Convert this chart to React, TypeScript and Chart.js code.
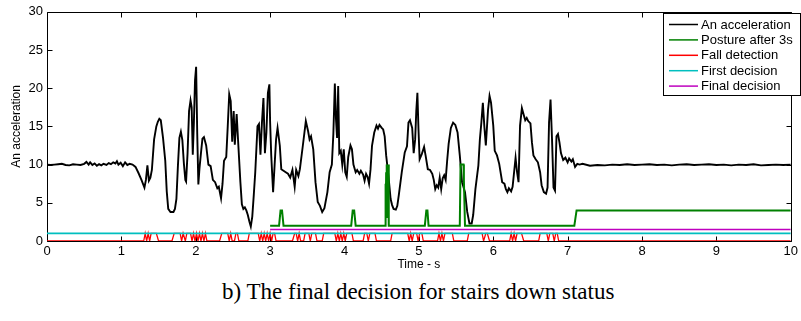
import React, { useEffect, useRef } from "react";
import { Chart, registerables } from "chart.js";

Chart.register(...registerables);

// Magnitude of acceleration over time: [time (s), value]
const accSamples: [number, number][] = [
  [0.0, 10.0], [0.05, 9.95], [0.1, 10.0], [0.15, 10.05], [0.2, 10.1], [0.25, 9.95],
  [0.3, 9.9], [0.35, 10.05], [0.4, 10.0], [0.45, 9.95], [0.5, 10.1], [0.53, 10.35],
  [0.56, 10.0], [0.58, 10.3], [0.61, 9.95], [0.64, 10.15], [0.67, 9.85], [0.7, 10.05],
  [0.73, 9.9], [0.76, 10.1], [0.8, 9.95], [0.83, 10.2], [0.86, 10.05], [0.89, 10.3],
  [0.92, 10.15], [0.94, 10.45], [0.96, 10.0], [0.99, 10.25], [1.02, 9.8], [1.05, 10.3],
  [1.08, 9.95], [1.11, 10.1], [1.15, 10.0], [1.19, 9.7], [1.23, 8.9], [1.27, 8.0],
  [1.31, 7.0], [1.33, 8.0], [1.35, 9.9], [1.37, 7.9], [1.39, 8.3], [1.41, 9.3],
  [1.44, 13.3], [1.47, 15.0], [1.49, 15.6], [1.51, 16.0], [1.53, 15.8], [1.56, 13.5],
  [1.59, 10.5], [1.61, 6.5], [1.63, 4.2], [1.66, 3.8], [1.7, 3.8], [1.72, 4.2],
  [1.74, 5.5], [1.76, 9.8], [1.78, 13.5], [1.8, 14.3], [1.82, 13.2], [1.84, 10.2],
  [1.86, 8.0], [1.87, 7.8], [1.89, 11.5], [1.91, 17.0], [1.93, 18.4], [1.945, 17.5],
  [1.96, 11.3], [1.975, 15.5], [1.99, 21.0], [2.005, 22.8], [2.02, 14.0], [2.035, 7.4],
  [2.05, 9.5], [2.07, 11.5], [2.09, 13.4], [2.11, 13.6], [2.14, 12.5], [2.17, 10.0],
  [2.2, 9.8], [2.23, 8.0], [2.26, 7.7], [2.29, 6.9], [2.31, 7.1], [2.34, 5.6],
  [2.36, 7.5], [2.38, 10.5], [2.41, 11.0], [2.43, 15.0], [2.45, 19.2], [2.47, 18.3],
  [2.49, 13.0], [2.51, 17.0], [2.525, 12.6], [2.55, 16.6], [2.57, 13.0], [2.6, 7.7],
  [2.62, 4.8], [2.64, 4.2], [2.66, 4.4], [2.68, 4.0], [2.7, 3.4], [2.72, 2.6],
  [2.74, 1.9], [2.76, 3.2], [2.78, 6.0], [2.8, 9.0], [2.83, 15.0], [2.85, 15.3],
  [2.87, 11.3], [2.89, 15.5], [2.91, 18.7], [2.93, 11.5], [2.95, 14.2], [2.97, 19.4],
  [2.99, 20.5], [3.0, 15.5], [3.015, 11.2], [3.04, 6.4], [3.06, 9.9], [3.08, 13.3],
  [3.1, 14.8], [3.13, 12.5], [3.15, 9.4], [3.18, 9.2], [3.21, 9.0], [3.24, 8.8],
  [3.27, 8.3], [3.3, 9.3], [3.33, 7.1], [3.35, 9.3], [3.38, 8.5], [3.4, 9.4],
  [3.44, 12.5], [3.48, 15.7], [3.51, 14.4], [3.53, 13.3], [3.55, 13.7], [3.58, 12.0],
  [3.61, 7.7], [3.64, 5.1], [3.67, 4.6], [3.7, 3.8], [3.73, 4.3], [3.77, 6.4],
  [3.8, 9.0], [3.83, 10.0], [3.85, 14.0], [3.87, 20.6], [3.885, 16.0], [3.9, 13.5],
  [3.915, 20.3], [3.93, 11.5], [3.95, 11.8], [3.97, 10.0], [3.99, 12.0], [4.01, 9.0],
  [4.03, 8.4], [4.05, 11.0], [4.08, 12.5], [4.1, 12.0], [4.12, 10.0], [4.15, 9.0],
  [4.17, 9.3], [4.2, 8.8], [4.22, 9.2], [4.25, 8.7], [4.27, 7.9], [4.29, 8.8],
  [4.31, 8.4], [4.33, 7.5], [4.35, 9.4], [4.37, 12.5], [4.4, 14.2], [4.43, 15.1],
  [4.45, 14.7], [4.47, 15.2], [4.5, 14.8], [4.52, 14.6], [4.54, 13.7], [4.56, 11.2],
  [4.59, 8.6], [4.62, 5.5], [4.64, 4.7], [4.66, 4.2], [4.69, 4.1], [4.71, 4.6],
  [4.73, 6.0], [4.77, 9.0], [4.81, 11.6], [4.84, 12.4], [4.86, 15.5], [4.88, 15.8],
  [4.91, 14.8], [4.93, 11.5], [4.95, 13.3], [4.965, 17.0], [4.98, 19.4], [4.995, 14.5],
  [5.01, 10.7], [5.04, 11.4], [5.07, 12.3], [5.09, 11.2], [5.12, 9.4], [5.15, 9.3],
  [5.18, 8.8], [5.2, 8.0], [5.22, 6.8], [5.24, 7.3], [5.26, 7.0], [5.28, 8.3],
  [5.3, 6.8], [5.32, 8.2], [5.34, 8.6], [5.36, 8.0], [5.38, 10.5], [5.4, 12.7],
  [5.43, 14.8], [5.46, 15.5], [5.49, 15.2], [5.52, 14.2], [5.55, 11.2], [5.58, 7.7],
  [5.62, 6.4], [5.65, 3.8], [5.68, 2.3], [5.71, 2.3], [5.73, 3.4], [5.76, 6.8],
  [5.8, 9.9], [5.82, 13.3], [5.84, 15.5], [5.86, 18.1], [5.88, 15.0], [5.9, 12.5],
  [5.93, 17.2], [5.95, 19.0], [5.97, 18.1], [6.0, 15.1], [6.02, 11.8], [6.05, 11.2],
  [6.08, 10.1], [6.12, 7.7], [6.15, 7.5], [6.17, 6.8], [6.19, 6.4], [6.21, 6.9],
  [6.24, 6.5], [6.26, 7.1], [6.28, 9.0], [6.3, 10.9], [6.32, 9.0], [6.34, 7.7],
  [6.36, 15.1], [6.385, 17.4], [6.41, 16.5], [6.43, 15.8], [6.45, 16.1], [6.47, 15.7],
  [6.5, 15.4], [6.52, 12.9], [6.54, 11.2], [6.57, 10.7], [6.6, 10.3], [6.63, 9.0],
  [6.65, 7.3], [6.68, 6.4], [6.71, 6.2], [6.73, 7.0], [6.75, 15.5], [6.77, 18.5],
  [6.79, 13.3], [6.81, 7.0], [6.83, 6.6], [6.85, 13.7], [6.87, 14.0], [6.89, 12.9],
  [6.91, 11.5], [6.94, 10.6], [6.97, 10.9], [7.0, 10.3], [7.02, 10.8], [7.05, 10.4],
  [7.07, 10.7], [7.1, 9.7], [7.13, 10.1], [7.16, 10.0], [7.2, 10.1], [7.3, 9.85],
  [7.4, 9.95], [7.5, 9.9], [7.6, 10.0], [7.7, 9.95], [7.8, 10.05], [7.9, 9.95],
  [8.0, 10.0], [8.1, 10.05], [8.2, 9.95], [8.3, 10.0], [8.4, 9.9], [8.5, 10.0],
  [8.6, 10.05], [8.7, 9.95], [8.8, 10.0], [8.9, 10.05], [9.0, 9.95], [9.1, 10.0],
  [9.2, 9.9], [9.3, 10.0], [9.4, 9.95], [9.5, 10.05], [9.6, 9.9], [9.7, 9.95],
  [9.8, 10.0], [9.9, 9.95], [10.0, 10.0],
];

// Posture class reported 3 s after the fall candidate
const postureSamples: [number, number][] = [
  [3.0, 2], [3.12, 2], [3.14, 4], [3.16, 4], [3.18, 2],
  [4.09, 2], [4.11, 4], [4.13, 4], [4.15, 2],
  [4.545, 2], [4.55, 7.5], [4.555, 2.5], [4.56, 9], [4.565, 3], [4.57, 10],
  [4.58, 3], [4.585, 10], [4.595, 2],
  [5.08, 2], [5.1, 4], [5.115, 4], [5.13, 2],
  [5.55, 2], [5.56, 10], [5.6, 10], [5.605, 8], [5.62, 2],
  [7.09, 2], [7.12, 4], [10.0, 4],
];

// Binary fall-detection flag
const fallSamples: [number, number][] = [
  [0, 0], [1.3, 0], [1.32, 1], [1.34, 0], [1.36, 1], [1.38, 0], [1.4, 1],
  [1.47, 1], [1.5, 0], [1.68, 0], [1.71, 1],
  [1.79, 1], [1.81, 0], [1.83, 1], [1.84, 1], [1.86, 0], [1.88, 1],
  [1.93, 1], [1.95, 0], [1.97, 1], [1.99, 0], [2.01, 1], [2.03, 0], [2.05, 1],
  [2.07, 0], [2.09, 1], [2.11, 0], [2.13, 1], [2.15, 0], [2.32, 0], [2.35, 1],
  [2.43, 1], [2.45, 0], [2.47, 1], [2.49, 0], [2.52, 0], [2.54, 1], [2.56, 1],
  [2.58, 0], [2.7, 0], [2.72, 1],
  [2.84, 1], [2.86, 0], [2.88, 1], [2.9, 0], [2.92, 1], [2.94, 0], [2.96, 1],
  [2.98, 0], [3.0, 1], [3.02, 0], [3.04, 1], [3.06, 1], [3.08, 0], [3.3, 0], [3.33, 1],
  [3.35, 1], [3.37, 0], [3.39, 1], [3.41, 0], [3.45, 0], [3.47, 1], [3.52, 1],
  [3.54, 0], [3.56, 1], [3.61, 1], [3.63, 0], [3.7, 0], [3.72, 1],
  [3.87, 1], [3.89, 0], [3.91, 1], [3.93, 0], [3.95, 1], [3.97, 0], [3.99, 1],
  [4.01, 0], [4.03, 1], [4.1, 1], [4.12, 0], [4.25, 0], [4.27, 1], [4.3, 1],
  [4.32, 0], [4.34, 1], [4.41, 1], [4.43, 0], [4.62, 0], [4.64, 1],
  [4.85, 1], [4.87, 0], [4.89, 1], [4.91, 0], [4.93, 1], [4.97, 1], [4.99, 0],
  [5.01, 1], [5.04, 1], [5.06, 0], [5.25, 0], [5.27, 1], [5.29, 0], [5.31, 1],
  [5.33, 0], [5.35, 1], [5.45, 1], [5.47, 0], [5.65, 0], [5.67, 1],
  [5.85, 1], [5.87, 0], [5.9, 1], [5.92, 1], [5.95, 0], [6.22, 0], [6.24, 1],
  [6.26, 0], [6.28, 1], [6.3, 0], [6.32, 1], [6.38, 1], [6.41, 0], [6.61, 0],
  [6.63, 1], [6.72, 1], [6.74, 0], [6.76, 1], [6.8, 1], [6.82, 0], [6.84, 1],
  [6.86, 1], [6.88, 0], [10.0, 0],
];

// Decision outputs
const firstDecisionSamples: [number, number][] = [[0, 1], [10, 1]];
const finalDecisionSamples: [number, number][] = [[3, 1.5], [10, 1.5]];

const seriesLabels = [
  "An acceleration",
  "Posture after 3s",
  "Fall detection",
  "First decision",
  "Final decision",
];
const seriesColors = ["#000000", "#008000", "#ff0000", "#00bfbf", "#bf00bf"];

const xTickValues = [0, 1, 2, 3, 4, 5, 6, 7, 8, 9, 10];
const yTickValues = [0, 5, 10, 15, 20, 25, 30];

const toPoints = (s: [number, number][]) => s.map(([x, y]) => ({ x, y }));

const FONT = '"Liberation Sans", Arial, Helvetica, sans-serif';

// Axes box with inward tick marks on all four sides
const boxPlugin = {
  id: "axesBox",
  beforeDatasetsDraw(chart: any) {
    const { ctx, chartArea: a, scales } = chart;
    const tl = 5;
    ctx.save();
    ctx.strokeStyle = "#000";
    ctx.lineWidth = 1;
    ctx.beginPath();
    const L = Math.round(a.left) + 0.5;
    const R = Math.round(a.right) + 0.5;
    const T = Math.round(a.top) + 0.5;
    const B = Math.round(a.bottom) + 0.5;
    ctx.rect(L, T, R - L, B - T);
    xTickValues.forEach((v) => {
      const px = Math.round(scales.x.getPixelForValue(v)) + 0.5;
      ctx.moveTo(px, B);
      ctx.lineTo(px, B - tl);
      ctx.moveTo(px, T);
      ctx.lineTo(px, T + tl);
    });
    yTickValues.forEach((v) => {
      const py = Math.round(scales.y.getPixelForValue(v)) + 0.5;
      ctx.moveTo(L, py);
      ctx.lineTo(L + tl, py);
      ctx.moveTo(R, py);
      ctx.lineTo(R - tl, py);
    });
    ctx.stroke();
    ctx.restore();
  },
};

// Boxed legend in the upper-right corner
const legendBoxPlugin = {
  id: "legendBox",
  afterDraw(chart: any) {
    const { ctx } = chart;
    const left = 663.5;
    const top = 13.5;
    const w = 137;
    const h = 82;
    ctx.save();
    ctx.fillStyle = "#fff";
    ctx.fillRect(left, top, w, h);
    ctx.strokeStyle = "#000";
    ctx.lineWidth = 1;
    ctx.strokeRect(left, top, w, h);
    ctx.font = `13px ${FONT}`;
    ctx.textBaseline = "middle";
    ctx.textAlign = "left";
    chart.data.datasets.forEach((ds: any, i: number) => {
      const y = 24.5 + i * 15.4;
      ctx.strokeStyle = ds.borderColor;
      ctx.lineWidth = 1.5;
      ctx.beginPath();
      ctx.moveTo(669, y);
      ctx.lineTo(698, y);
      ctx.stroke();
      ctx.fillStyle = "#000";
      ctx.fillText(ds.label, 701, y + 0.5);
    });
    ctx.restore();
  },
};

export default function App() {
  const canvasRef = useRef<HTMLCanvasElement | null>(null);

  useEffect(() => {
    document.body.style.margin = "0";
    const canvas = canvasRef.current;
    if (!canvas) return;
    const seriesData = [
      accSamples,
      postureSamples,
      fallSamples,
      firstDecisionSamples,
      finalDecisionSamples,
    ];
    const widths = [1.9, 2, 1.3, 1.6, 1.6];
    const chart = new Chart(canvas, {
      type: "line",
      data: {
        datasets: seriesData.map((s, i) => ({
          label: seriesLabels[i],
          data: toPoints(s),
          borderColor: seriesColors[i],
          backgroundColor: seriesColors[i],
          borderWidth: widths[i],
          pointRadius: 0,
          tension: 0,
          fill: false,
          order: 5 - i,
        })),
      },
      options: {
        animation: false,
        responsive: false,
        devicePixelRatio: 1,
        layout: { padding: { top: 10, right: 3.5, left: 0, bottom: 0 } },
        plugins: {
          legend: { display: false },
          tooltip: { enabled: false },
        },
        scales: {
          x: {
            type: "linear",
            min: 0,
            max: 10,
            afterBuildTicks: (s: any) => {
              s.ticks = xTickValues.map((value) => ({ value }));
            },
            afterFit: (s: any) => {
              s.height = 35;
            },
            grid: { display: false, drawTicks: false },
            border: { display: false },
            ticks: {
              padding: 3,
              color: "#000",
              font: { family: FONT, size: 13 },
              maxRotation: 0,
            },
            title: {
              display: true,
              text: "Time - s",
              color: "#000",
              font: { family: FONT, size: 12 },
              padding: { top: 0, bottom: 4 },
            },
          },
          y: {
            type: "linear",
            min: 0,
            max: 30,
            afterBuildTicks: (s: any) => {
              s.ticks = yTickValues.map((value) => ({ value }));
            },
            afterFit: (s: any) => {
              s.width = 47;
            },
            grid: { display: false, drawTicks: false },
            border: { display: false },
            ticks: {
              padding: 4,
              color: "#000",
              font: { family: FONT, size: 13 },
            },
            title: {
              display: true,
              text: "An acceleration",
              color: "#000",
              font: { family: FONT, size: 12 },
              padding: { top: 9, bottom: 0 },
            },
          },
        },
      },
      plugins: [boxPlugin, legendBoxPlugin],
    });
    return () => chart.destroy();
  }, []);

  return (
    <div style={{ position: "relative", width: 801, height: 321, background: "#fff" }}>
      <canvas ref={canvasRef} width={801} height={276} style={{ display: "block" }} />
      <div
        style={{
          position: "absolute",
          left: 222,
          top: 280,
          whiteSpace: "nowrap",
          fontFamily: '"Liberation Serif", "Times New Roman", serif',
          fontSize: 23,
          lineHeight: "23px",
          color: "#000",
        }}
      >
        b) The final decision for stairs down status
      </div>
    </div>
  );
}
